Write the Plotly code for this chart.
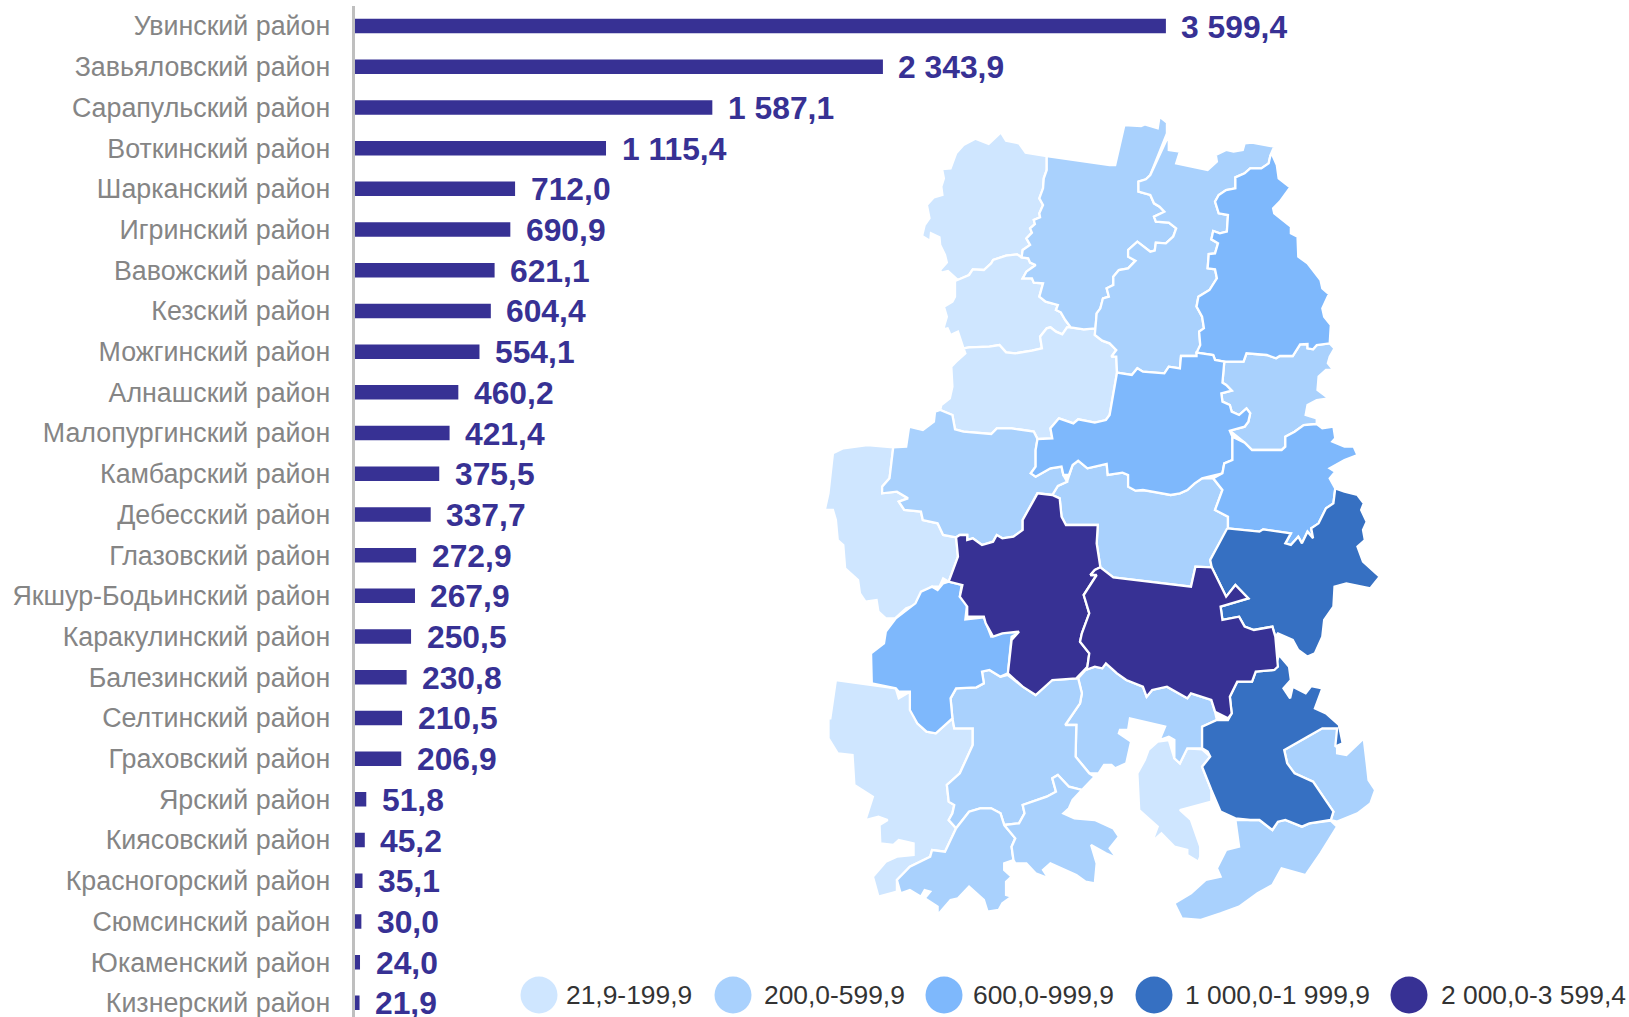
import plotly.graph_objects as go

PAGE_W, PAGE_H = 1629, 1017

districts = ["Увинский район", "Завьяловский район", "Сарапульский район", "Воткинский район",
             "Шарканский район", "Игринский район", "Вавожский район", "Кезский район",
             "Можгинский район", "Алнашский район", "Малопургинский район", "Камбарский район",
             "Дебесский район", "Глазовский район", "Якшур-Бодьинский район", "Каракулинский район",
             "Балезинский район", "Селтинский район", "Граховский район", "Ярский район",
             "Киясовский район", "Красногорский район", "Сюмсинский район", "Юкаменский район",
             "Кизнерский район"]
values = [3599.4, 2343.9, 1587.1, 1115.4, 712.0, 690.9, 621.1, 604.4, 554.1, 460.2, 421.4, 375.5,
          337.7, 272.9, 267.9, 250.5, 230.8, 210.5, 206.9, 51.8, 45.2, 35.1, 30.0, 24.0, 21.9]

legend_labels = ["21,9-199,9", "200,0-599,9", "600,0-999,9", "1 000,0-1 999,9", "2 000,0-3 599,4"]
class_colors = ["#CFE6FF", "#A9D1FD", "#7EB8FC", "#3670C2", "#373194"]
BAR_COLOR = "#373194"

# Map outlines (origin at page pixel 810,100; u = 1568/580 per pixel, v = 3 per pixel)
map_a = [(640,168),(583,158),(565,130),(530,122),(516,97),(483,132),(447,116),(415,135),(395,160),(380,205),(357,207),(362,235),(355,260),(358,285),(335,292),(316,315),(323,355),(310,375),(303,408),(325,423),(327,400),(350,412),(352,435),(365,465),(370,487),(352,510),(355,518),(373,513),(400,540),(430,525),(440,508),(470,510),(490,490),(495,480),(530,467),(560,463),(572,472),(575,450),(595,435),(585,415),(600,398),(595,385),(608,372),(605,360),(622,352),(620,340),(630,315),(620,295),(630,265),(632,235),(640,210)]
map_b = [(392,543),(430,525),(440,508),(470,510),(490,490),(495,480),(530,467),(560,463),(572,472),(590,475),(595,488),(610,495),(585,515),(575,535),(600,535),(605,548),(630,550),(620,590),(637,605),(670,615),(665,630),(678,637),(690,660),(705,682),(695,682),(682,703),(665,695),(650,682),(640,685),(622,710),(627,745),(600,752),(555,760),(530,757),(512,735),(485,740),(430,742),(415,745),(400,695),(380,705),(372,685),(360,688),(370,650),(362,620),(385,605),(392,590)]
map_c = [(640,168),(750,185),(810,195),(825,195),(850,75),(895,78),(905,73),(940,85),(945,50),(965,68),(965,100),(920,225),(908,238),(888,245),(888,275),(920,285),(930,310),(945,320),(958,335),(930,350),(935,365),(970,368),(990,385),(982,410),(962,430),(935,428),(932,452),(920,455),(885,425),(860,450),(860,470),(880,482),(860,505),(835,510),(820,530),(820,555),(802,565),(808,590),(792,595),(785,625),(775,640),(772,685),(740,688),(705,682),(690,660),(678,637),(665,630),(670,615),(637,605),(620,590),(630,550),(605,548),(600,535),(575,535),(585,515),(610,495),(595,488),(590,475),(572,472),(575,450),(595,435),(585,415),(600,398),(595,385),(608,372),(605,360),(622,352),(620,340),(630,315),(620,295),(630,265),(632,235),(640,210)]
map_d = [(415,745),(430,742),(485,740),(512,735),(530,757),(555,760),(600,752),(627,745),(622,710),(640,685),(650,682),(665,695),(682,703),(695,682),(705,682),(740,688),(772,685),(770,705),(790,722),(810,730),(828,750),(815,770),(828,770),(830,818),(810,945),(800,960),(770,968),(725,958),(712,970),(673,955),(650,985),(655,1015),(615,1017),(605,995),(545,985),(505,985),(490,1002),(415,995),(392,988),(385,945),(352,930),(355,915),(378,895),(385,860),(382,800),(395,785),(420,760)]
map_e = [(970,105),(970,150),(1000,155),(990,190),(1075,210),(1100,185),(1097,165),(1125,150),(1145,155),(1170,150),(1175,130),(1195,128),(1255,140),(1245,165),(1240,190),(1220,205),(1190,205),(1175,220),(1150,232),(1150,265),(1125,270),(1105,285),(1095,305),(1105,340),(1130,345),(1127,395),(1108,400),(1090,393),(1085,418),(1103,430),(1095,460),(1078,462),(1075,505),(1095,508),(1100,535),(1080,570),(1050,590),(1045,620),(1060,650),(1065,685),(1052,695),(1055,735),(1045,768),(1003,768),(1000,805),(970,800),(958,820),(900,815),(885,805),(870,825),(830,818),(828,770),(815,770),(828,750),(810,730),(790,722),(770,705),(772,685),(775,640),(785,625),(792,595),(808,590),(802,565),(820,555),(820,530),(835,510),(860,505),(880,482),(860,470),(860,450),(885,425),(920,455),(932,452),(935,428),(962,430),(982,410),(990,385),(970,368),(935,365),(930,350),(958,335),(945,320),(930,310),(920,285),(888,275),(888,245),(908,238),(920,225)]
map_f = [(1245,165),(1250,165),(1262,195),(1267,235),(1298,262),(1270,305),(1252,325),(1255,340),(1300,380),(1300,400),(1318,410),(1320,470),(1345,490),(1380,540),(1385,565),(1403,582),(1385,625),(1390,650),(1408,675),(1405,730),(1370,735),(1360,748),(1345,745),(1345,732),(1325,733),(1305,768),(1270,768),(1260,775),(1235,765),(1180,760),(1172,785),(1120,785),(1095,780),(1090,765),(1045,758),(1055,735),(1052,695),(1065,685),(1060,650),(1045,620),(1050,590),(1080,570),(1100,535),(1095,508),(1075,505),(1078,462),(1095,460),(1103,430),(1085,418),(1090,393),(1108,400),(1127,395),(1130,345),(1105,340),(1095,305),(1105,285),(1125,270),(1150,265),(1150,232),(1175,220),(1190,205),(1220,205),(1240,190)]
map_g = [(1405,730),(1370,735),(1360,748),(1345,745),(1345,732),(1325,733),(1305,768),(1270,768),(1260,775),(1235,765),(1180,760),(1172,785),(1120,785),(1115,848),(1125,855),(1140,872),(1112,880),(1115,905),(1135,915),(1140,935),(1160,945),(1180,925),(1190,940),(1185,965),(1175,980),(1135,992),(1175,1028),(1195,1050),(1275,1050),(1285,1040),(1285,1010),(1310,995),(1335,975),(1370,972),(1370,955),(1340,945),(1345,915),(1370,900),(1402,895),(1372,870),(1375,830),(1395,810),(1415,810),(1400,790),(1405,770),(1418,745)]
map_h = [(830,818),(870,825),(885,805),(900,815),(958,820),(970,800),(1000,805),(1003,768),(1045,768),(1045,758),(1090,765),(1095,780),(1120,785),(1115,848),(1125,855),(1140,872),(1112,880),(1115,905),(1135,915),(1140,935),(1160,945),(1180,925),(1190,940),(1185,965),(1175,980),(1135,992),(1142,1010),(1142,1080),(1120,1090),(1115,1120),(1060,1135),(1040,1150),(1020,1170),(1000,1180),(975,1185),(930,1175),(900,1170),(880,1172),(860,1160),(860,1125),(845,1118),(805,1125),(802,1092),(750,1105),(725,1082),(710,1095),(700,1125),(685,1125),(680,1100),(650,1105),(610,1130),(597,1120),(610,1100),(610,1050),(615,1017),(655,1015),(650,985),(673,955),(712,970),(725,958),(770,968),(800,960),(810,945)]
map_i = [(1142,1010),(1175,1028),(1195,1050),(1275,1050),(1285,1040),(1285,1010),(1310,995),(1335,975),(1370,972),(1385,985),(1415,980),(1420,1015),(1412,1025),(1445,1040),(1470,1040),(1480,1065),(1445,1080),(1405,1105),(1420,1115),(1405,1135),(1420,1165),(1415,1210),(1395,1225),(1375,1270),(1355,1285),(1360,1315),(1345,1295),(1330,1330),(1320,1310),(1300,1335),(1285,1330),(1300,1300),(1225,1288),(1215,1295),(1130,1285),(1130,1250),(1095,1230),(1115,1170),(1090,1135),(1115,1120),(1120,1090),(1142,1080)]
map_j = [(1090,1135),(1060,1135),(1040,1150),(1020,1170),(1000,1180),(975,1185),(930,1175),(900,1170),(880,1172),(860,1160),(860,1125),(845,1118),(805,1125),(802,1092),(750,1105),(725,1082),(710,1095),(700,1125),(695,1145),(670,1158),(655,1185),(675,1195),(680,1250),(692,1275),(778,1275),(775,1330),(785,1402),(820,1432),(1030,1460),(1042,1400),(1086,1402),(1082,1380),(1130,1285),(1130,1250),(1095,1230),(1115,1170)]
map_k = [(225,1042),(260,1040),(268,980),(305,990),(335,965),(338,935),(352,930),(385,945),(392,988),(415,995),(490,1002),(505,985),(545,985),(605,995),(615,1017),(610,1050),(610,1100),(597,1120),(610,1130),(650,1105),(680,1100),(685,1125),(695,1145),(670,1158),(655,1185),(615,1180),(600,1210),(575,1260),(575,1290),(550,1310),(520,1315),(505,1305),(495,1325),(465,1335),(440,1315),(425,1320),(425,1305),(405,1305),(395,1312),(360,1305),(345,1270),(305,1260),(300,1235),(255,1230),(240,1205),(265,1195),(235,1175),(195,1180),(195,1160),(215,1135)]
map_l = [(62,1060),(90,1045),(155,1035),(225,1042),(215,1135),(195,1160),(195,1180),(235,1175),(265,1195),(240,1205),(255,1230),(300,1235),(305,1260),(345,1270),(360,1305),(395,1312),(400,1370),(375,1445),(360,1435),(350,1460),(330,1460),(300,1480),(285,1515),(260,1525),(230,1555),(205,1555),(185,1535),(180,1500),(150,1505),(135,1480),(130,1440),(95,1405),(90,1335),(75,1320),(70,1260),(62,1230),(40,1230),(50,1180)]
map_m = [(655,1185),(615,1180),(600,1210),(575,1260),(575,1290),(550,1310),(520,1315),(505,1305),(495,1325),(465,1335),(440,1315),(425,1320),(425,1305),(405,1305),(395,1312),(400,1370),(375,1445),(412,1455),(405,1490),(425,1520),(425,1550),(470,1550),(475,1570),(495,1610),(520,1600),(565,1595),(545,1620),(535,1720),(575,1760),(610,1785),(655,1740),(720,1735),(750,1700),(755,1660),(730,1625),(735,1600),(755,1540),(740,1485),(775,1425),(758,1425),(770,1410),(785,1402),(775,1330),(778,1275),(692,1275),(680,1250),(675,1195)]
map_n = [(785,1402),(820,1432),(1030,1460),(1042,1400),(1086,1402),(1125,1490),(1150,1455),(1185,1495),(1110,1520),(1115,1560),(1160,1550),(1175,1580),(1200,1590),(1250,1580),(1258,1610),(1265,1700),(1255,1710),(1205,1715),(1195,1745),(1155,1745),(1135,1790),(1140,1840),(1130,1855),(1095,1835),(1085,1800),(1030,1780),(1020,1795),(965,1760),(925,1770),(910,1790),(900,1760),(855,1740),(830,1720),(800,1690),(790,1705),(770,1700),(745,1710),(750,1700),(755,1660),(730,1625),(735,1600),(755,1540),(740,1485),(775,1425),(758,1425),(770,1410)]
map_o = [(1128,1285),(1215,1295),(1225,1288),(1300,1300),(1285,1330),(1300,1335),(1320,1310),(1330,1330),(1345,1295),(1360,1315),(1355,1285),(1375,1270),(1395,1225),(1415,1210),(1420,1165),(1445,1175),(1480,1185),(1497,1210),(1490,1230),(1505,1265),(1495,1290),(1500,1320),(1480,1340),(1495,1385),(1540,1430),(1515,1465),(1450,1450),(1418,1460),(1415,1520),(1390,1560),(1385,1610),(1365,1660),(1345,1670),(1320,1650),(1305,1620),(1265,1600),(1258,1610),(1250,1580),(1200,1590),(1175,1580),(1160,1550),(1115,1560),(1110,1520),(1185,1495),(1150,1455),(1125,1490),(1086,1402),(1082,1380)]
map_p = [(1268,1665),(1295,1700),(1300,1740),(1280,1765),(1298,1795),(1305,1760),(1340,1780),(1355,1758),(1385,1765),(1365,1825),(1395,1840),(1430,1875),(1440,1930),(1420,1940),(1425,1885),(1385,1885),(1345,1910),(1282,1950),(1290,1990),(1310,2020),(1360,2045),(1415,2135),(1408,2160),(1350,2170),(1330,2180),(1285,2160),(1265,2165),(1250,2190),(1215,2160),(1190,2160),(1150,2155),(1110,2135),(1085,2070),(1060,2000),(1082,1970),(1075,1955),(1060,1945),(1060,1880),(1100,1860),(1130,1860),(1140,1840),(1135,1790),(1155,1745),(1195,1745),(1205,1715),(1255,1710)]
map_q = [(1282,1950),(1345,1910),(1385,1885),(1425,1885),(1425,1960),(1450,1965),(1497,1915),(1505,1990),(1510,2040),(1528,2070),(1515,2110),(1480,2140),(1425,2165),(1408,2160),(1415,2135),(1360,2045),(1310,2020),(1290,1990)]
map_r = [(745,1710),(770,1700),(790,1705),(800,1690),(830,1720),(855,1740),(900,1760),(910,1790),(925,1770),(965,1760),(1020,1795),(1030,1780),(1085,1800),(1095,1835),(1100,1860),(1060,1880),(1060,1945),(1020,1945),(1000,1990),(985,1975),(985,1920),(970,1910),(945,1920),(960,1880),(865,1855),(860,1890),(838,1890),(835,1900),(868,1925),(855,1990),(825,2005),(815,1995),(795,1995),(780,2020),(755,2020),(718,1970),(720,1875),(690,1875),(730,1810),(735,1780),(725,1735)]
map_s = [(915,1950),(940,1925),(970,1920),(985,1975),(1000,1990),(1020,1945),(1060,1948),(1082,1970),(1060,2000),(1085,2070),(1085,2105),(1000,2130),(1030,2160),(1055,2240),(1055,2270),(1050,2285),(1020,2265),(1020,2250),(985,2240),(950,2200),(925,2225),(940,2180),(890,2130),(885,2020),(905,1980)]
map_t = [(1150,2160),(1160,2240),(1125,2250),(1100,2305),(1110,2330),(1070,2340),(1030,2380),(985,2410),(1005,2455),(1055,2460),(1110,2440),(1160,2420),(1210,2380),(1250,2355),(1275,2305),(1340,2325),(1380,2260),(1425,2180),(1408,2162),(1350,2170),(1330,2180),(1285,2160),(1265,2165),(1250,2190),(1215,2160),(1190,2160)]
map_u = [(485,1710),(465,1715),(470,1750),(450,1762),(395,1765),(380,1795),(385,1855),(390,1885),(440,1885),(440,1935),(405,2020),(370,2055),(375,2105),(390,2115),(385,2140),(375,2160),(395,2185),(430,2135),(460,2125),(490,2125),(515,2140),(525,2175),(565,2170),(580,2140),(575,2115),(640,2090),(665,2075),(655,2035),(670,2025),(700,2060),(735,2070),(770,2030),(755,2020),(718,1970),(720,1875),(690,1875),(730,1810),(735,1780),(725,1735),(720,1735),(655,1740),(610,1785),(575,1760),(535,1725),(515,1730)]
map_v = [(375,1445),(410,1455),(405,1490),(425,1510),(420,1558),(470,1552),(490,1610),(530,1595),(565,1598),(545,1610),(535,1720),(515,1730),(485,1710),(465,1715),(470,1750),(450,1762),(395,1765),(380,1795),(385,1855),(340,1900),(315,1895),(290,1870),(270,1830),(270,1775),(240,1775),(232,1765),(167,1750),(165,1660),(200,1630),(205,1595),(232,1555),(285,1510),(300,1475),(330,1460),(345,1470),(360,1450)]
map_w = [(70,1740),(232,1765),(240,1795),(270,1775),(275,1830),(290,1870),(315,1895),(340,1900),(385,1855),(390,1885),(440,1885),(440,1935),(405,2020),(370,2055),(375,2105),(390,2115),(385,2140),(375,2160),(395,2185),(365,2255),(330,2250),(325,2270),(270,2300),(235,2340),(235,2375),(185,2390),(170,2330),(205,2285),(235,2270),(280,2265),(280,2230),(240,2220),(225,2235),(190,2230),(188,2175),(210,2160),(185,2150),(150,2160),(170,2090),(120,2055),(115,1965),(75,1960),(50,1915),(50,1855),(55,1855)]
map_x = [(395,2185),(430,2135),(460,2125),(490,2125),(515,2140),(525,2175),(555,2215),(545,2240),(550,2280),(525,2290),(525,2310),(545,2330),(530,2345),(530,2385),(545,2390),(520,2410),(510,2430),(480,2435),(470,2400),(430,2360),(400,2395),(380,2400),(345,2445),(345,2420),(310,2395),(325,2375),(310,2370),(300,2390),(270,2370),(245,2380),(235,2340),(270,2300),(325,2270),(330,2250),(365,2255)]
map_y = [(525,2175),(565,2170),(580,2140),(575,2115),(640,2090),(665,2075),(655,2035),(670,2025),(700,2060),(735,2070),(710,2100),(700,2125),(685,2140),(715,2155),(770,2160),(820,2185),(835,2210),(810,2245),(830,2275),(800,2260),(760,2235),(775,2290),(770,2350),(745,2345),(720,2325),(680,2305),(650,2290),(630,2310),(645,2335),(610,2320),(585,2290),(555,2290),(550,2280),(545,2240),(555,2215)]

map_regions = [(map_a, 0), (map_b, 0), (map_d, 0), (map_l, 0), (map_w, 0), (map_s, 0),
               (map_c, 1), (map_e, 1), (map_g, 1), (map_j, 1), (map_k, 1), (map_q, 1),
               (map_r, 1), (map_t, 1), (map_u, 1), (map_x, 1), (map_y, 1),
               (map_f, 2), (map_h, 2), (map_i, 2), (map_v, 2),
               (map_o, 3), (map_p, 3), (map_m, 4), (map_n, 4)]

legend_x = [539, 733, 944, 1154, 1409]
legend_text_x = [566, 764, 973, 1185, 1441]
LEGEND_Y = 995

ZERO_X, TOP_Y, ROW, PX_PER_UNIT = 354.6, 5.7, 40.7, 0.2254
U_SCALE = 580 / 1568


def fmt(v):
    return f"{v:,.1f}".replace(",", " ").replace(".", ",")


fig = go.Figure()
fig.add_trace(go.Bar(y=districts, x=values, orientation="h", marker=dict(color=BAR_COLOR, line_width=0),
                     hoverinfo="skip", showlegend=False, xaxis="x", yaxis="y"))

for pts, cls in map_regions:
    closed = pts + [pts[0]]
    fig.add_trace(go.Scatter(x=[810 + p[0] * U_SCALE for p in closed], y=[100 + p[1] / 3 for p in closed],
                             mode="lines", fill="toself", fillcolor=class_colors[cls],
                             line=dict(color="white", width=2.3), hoverinfo="skip", showlegend=False,
                             xaxis="x2", yaxis="y2"))

fig.add_trace(go.Scatter(x=legend_x, y=[LEGEND_Y] * 5, mode="markers",
                         marker=dict(size=37, color=class_colors, line_width=0),
                         hoverinfo="skip", showlegend=False, xaxis="x2", yaxis="y2", cliponaxis=False))

annotations = [dict(x=v, y=d, xref="x", yref="y", text=fmt(v), showarrow=False, xanchor="left", yanchor="middle",
                    xshift=13.5, yshift=-0.5, font=dict(family="Liberation Sans", size=31.8, color=BAR_COLOR, weight="bold"))
               for d, v in zip(districts, values)]
annotations += [dict(x=x, y=LEGEND_Y, xref="x2", yref="y2", text=t, showarrow=False, xanchor="left", yanchor="middle",
                     xshift=-2, font=dict(family="Liberation Sans", size=26.4, color="#333333"))
                for x, t in zip(legend_text_x, legend_labels)]

fig.update_layout(
    width=PAGE_W, height=PAGE_H, margin=dict(l=0, r=0, t=0, b=0), paper_bgcolor="white",
    plot_bgcolor="rgba(0,0,0,0)",
    bargap=1 - 14.5 / ROW, showlegend=False, annotations=annotations,
    xaxis=dict(domain=[ZERO_X / PAGE_W, 1], range=[0, (PAGE_W - ZERO_X) / PX_PER_UNIT], visible=False, anchor="y"),
    yaxis=dict(domain=[0, 1 - TOP_Y / PAGE_H], range=[(PAGE_H - TOP_Y) / ROW - 0.5, -0.5], type="category",
               categoryorder="array", categoryarray=districts, anchor="x", dtick=1, automargin=False,
               showline=True, linecolor="#BFBFBF", linewidth=3, showgrid=False, zeroline=False, ticks="",
               ticklabelstandoff=16, tickfont=dict(family="Liberation Sans", size=26.8, color="#858585")),
    xaxis2=dict(domain=[0, 1], range=[0, PAGE_W], visible=False, anchor="y2"),
    yaxis2=dict(domain=[0, 1], range=[PAGE_H, 0], visible=False, anchor="x2"),
)

fig.write_html("out.html", config={"displayModeBar": False},
               post_script="document.body.style.margin='0';document.body.style.overflow='hidden';")
